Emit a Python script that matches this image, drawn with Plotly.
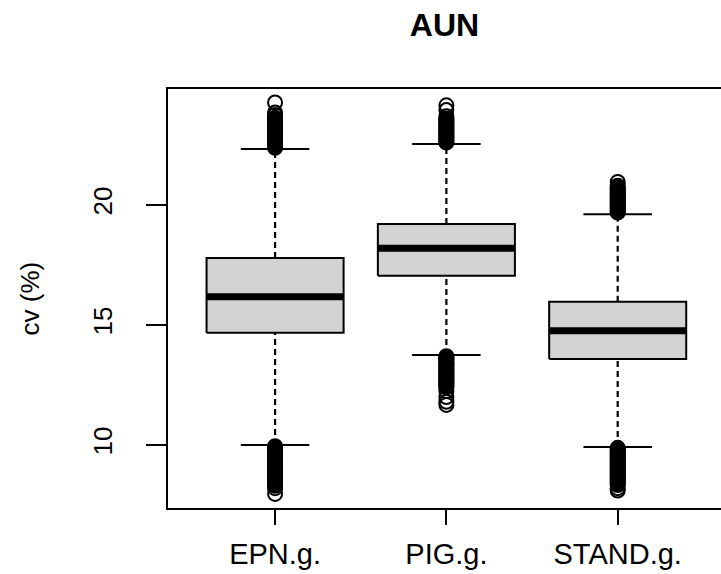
import plotly.graph_objects as go

# ---- data ----
categories = ["EPN.g.", "PIG.g.", "STAND.g."]
q1 = [14.68, 17.05, 13.58]
median = [16.18, 18.20, 14.76]
q3 = [17.79, 19.21, 15.97]
lower_whisker = [10.00, 13.75, 9.92]
upper_whisker = [22.33, 22.54, 19.61]

outliers_epn = [22.38, 22.43, 22.48, 22.53, 22.58, 22.63, 22.68, 22.73, 22.78,
                22.83, 22.88, 22.93, 22.98, 23.03, 23.08, 23.13, 23.18, 23.23,
                23.28, 23.33, 23.38, 23.43, 23.48, 23.53, 23.58, 23.63, 23.75,
                23.85, 24.27,
                9.95, 9.9, 9.85, 9.8, 9.75, 9.7, 9.65, 9.6, 9.55, 9.5, 9.45,
                9.4, 9.35, 9.3, 9.25, 9.2, 9.15, 9.1, 9.05, 9.0, 8.95, 8.9,
                8.85, 8.8, 8.75, 8.7, 8.65, 8.6, 8.55, 8.5, 8.45, 8.4, 8.35,
                8.3, 8.2, 7.96]
outliers_pig = [22.6, 22.65, 22.7, 22.75, 22.8, 22.85, 22.9, 22.95, 23.0,
                23.05, 23.1, 23.15, 23.2, 23.25, 23.3, 23.35, 23.4, 23.45,
                23.5, 23.55, 23.6, 23.7, 23.95, 24.15,
                13.7, 13.65, 13.6, 13.55, 13.5, 13.45, 13.4, 13.35, 13.3,
                13.25, 13.2, 13.15, 13.1, 13.05, 13.0, 12.95, 12.9, 12.85,
                12.8, 12.75, 12.7, 12.65, 12.6, 12.55, 12.5, 12.45, 12.4,
                12.25, 12.0, 11.8, 11.67]
outliers_stand = [19.68, 19.73, 19.78, 19.83, 19.88, 19.93, 19.98, 20.03,
                  20.08, 20.13, 20.18, 20.23, 20.28, 20.33, 20.38, 20.43,
                  20.48, 20.53, 20.58, 20.63, 20.68, 20.73, 20.8, 20.96,
                  9.88, 9.83, 9.78, 9.73, 9.68, 9.63, 9.58, 9.53, 9.48, 9.43,
                  9.38, 9.33, 9.28, 9.23, 9.18, 9.13, 9.08, 9.03, 8.98, 8.93,
                  8.88, 8.83, 8.78, 8.73, 8.68, 8.63, 8.58, 8.53, 8.48, 8.43,
                  8.38, 8.33, 8.2, 8.1]
outliers = [outliers_epn, outliers_pig, outliers_stand]

y_ticks = [10, 15, 20]

# ---- figure ----
pos = list(range(1, len(categories) + 1))
half_box = 0.4
half_cap = 0.2
FONT = "Liberation Sans, Arial, sans-serif"

fig = go.Figure()

# dashed whiskers
wx, wy = [], []
for p, lo, a, b, hi in zip(pos, lower_whisker, q1, q3, upper_whisker):
    wx += [p, p, None, p, p, None]
    wy += [lo, a, None, b, hi, None]
fig.add_trace(go.Scatter(x=wx, y=wy, mode="lines",
                         line=dict(color="black", width=2.2, dash="6px,4px")))

# whisker caps
cx, cy = [], []
for p, lo, hi in zip(pos, lower_whisker, upper_whisker):
    cx += [p - half_cap, p + half_cap, None, p - half_cap, p + half_cap, None]
    cy += [lo, lo, None, hi, hi, None]
fig.add_trace(go.Scatter(x=cx, y=cy, mode="lines",
                         line=dict(color="black", width=2)))

# boxes
for p, a, b in zip(pos, q1, q3):
    fig.add_trace(go.Scatter(
        x=[p - half_box, p + half_box, p + half_box, p - half_box, p - half_box],
        y=[a, a, b, b, a],
        mode="lines", fill="toself", fillcolor="#d3d3d3",
        line=dict(color="black", width=2)))

# medians
mx, my = [], []
for p, m in zip(pos, median):
    mx += [p - half_box, p + half_box, None]
    my += [m, m, None]
fig.add_trace(go.Scatter(x=mx, y=my, mode="lines",
                         line=dict(color="black", width=7)))

# outliers
for p, vals in zip(pos, outliers):
    fig.add_trace(go.Scatter(
        x=[p] * len(vals), y=vals, mode="markers",
        marker=dict(symbol="circle-open", size=14, color="black",
                    line=dict(color="black", width=2))))

fig.update_traces(showlegend=False, hoverinfo="skip")

fig.update_layout(
    width=721, height=574,
    margin=dict(l=168, r=0, t=89, b=66, autoexpand=False),
    plot_bgcolor="white", paper_bgcolor="white",
    font=dict(family=FONT, color="black"),
    title=dict(text="<b>AUN</b>", x=0.5, xref="paper", xanchor="center",
               y=1 - 25 / 574, yref="container", yanchor="middle",
               font=dict(size=32, family=FONT, color="black")),
    xaxis=dict(range=[0.375, 3.603], tickvals=pos, ticktext=categories,
               showgrid=False, zeroline=False, showline=True, mirror=True,
               linecolor="black", linewidth=2, ticks="outside", ticklen=15,
               tickwidth=2, tickcolor="black", ticklabelstandoff=4,
               tickfont=dict(size=29, family=FONT, color="black")),
    yaxis=dict(range=[7.375, 24.83], tickvals=y_ticks,
               showgrid=False, zeroline=False, showline=True, mirror=False,
               linecolor="black", linewidth=2, ticks="outside", ticklen=20,
               tickwidth=2, tickcolor="black", tickangle=-90,
               ticklabelstandoff=24,
               tickfont=dict(size=26, family=FONT, color="black")),
    annotations=[dict(text="cv (%)", textangle=-90, xref="paper", yref="paper",
                      x=(29 - 168) / 553, y=0.5, xanchor="center",
                      yanchor="middle", showarrow=False,
                      font=dict(size=26, family=FONT, color="black"))],
)

fig.write_html("out.html")
